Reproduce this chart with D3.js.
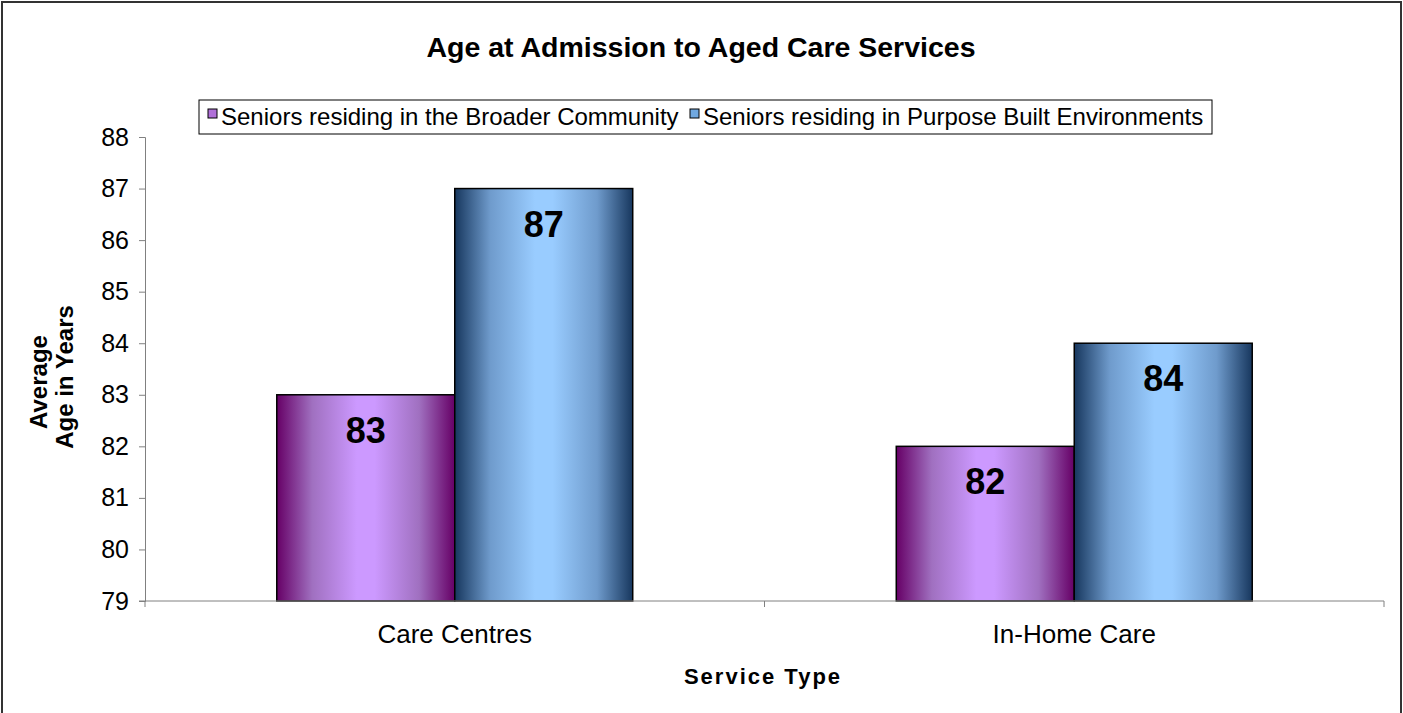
<!DOCTYPE html>
<html><head><meta charset="utf-8">
<script src="https://cdn.jsdelivr.net/npm/d3@7"></script>
<style>body{margin:0;background:#fff}svg{display:block}text{font-family:"Liberation Sans",Arial,sans-serif}</style>
</head><body><svg id="c" width="1403" height="713"></svg>
<script>
const categories = ["Care Centres", "In-Home Care"];
const seriesNames = ["Seniors residing in the Broader Community", "Seniors residing in Purpose Built Environments"];
const broaderCommunity = [83, 82];
const purposeBuilt = [87, 84];
const yTicks = [79, 80, 81, 82, 83, 84, 85, 86, 87, 88];

const svg = d3.select("#c");
const W = 1403, H = 713;
const m = {left:145, right:1384, top:137, bottom:601};

const defs = svg.append("defs");
function grad(id, dark, mid, light){
  const g = defs.append("linearGradient").attr("id", id).attr("x1","0%").attr("x2","100%").attr("y1","0%").attr("y2","0%");
  [[0,dark],[0.2,mid],[0.45,light],[0.55,light],[0.8,mid],[1,dark]].forEach(([o,c])=>g.append("stop").attr("offset",o).attr("stop-color",c));
}
grad("gP", "#660066", "#a070c0", "#cc99ff");
grad("gB", "#17375e", "#6f9bcc", "#99ccff");
const fills = ["url(#gP)", "url(#gB)"];
const legendFills = ["#b070d8", "#70a8e0"];

// outer border
svg.append("rect").attr("x",2).attr("y",2).attr("width",W-4).attr("height",H+10)
  .attr("fill","none").attr("stroke","#333").attr("stroke-width",2);

// title
svg.append("text").attr("x",701).attr("y",57).attr("text-anchor","middle")
  .attr("font-size",28.5).attr("font-weight","bold").text("Age at Admission to Aged Care Services");

const x0 = d3.scaleBand().domain(categories).range([m.left, m.right]);
const inner = x0.bandwidth();
const x1 = d3.scaleBand().domain([0,1]).range([inner*0.2127, inner*(1-0.2127)]);
const y = d3.scaleLinear().domain([79, 88]).range([m.bottom, m.top]);

// y axis
const yAxis = svg.append("g").attr("transform",`translate(${m.left},0)`)
  .call(d3.axisLeft(y).tickValues(yTicks).tickSize(6).tickPadding(10).tickFormat(d3.format("d")));
yAxis.select(".domain").attr("stroke","#808080");
yAxis.selectAll(".tick line").attr("stroke","#808080");
yAxis.selectAll(".tick text").attr("font-size",25).attr("fill","#000").attr("font-family","Liberation Sans, Arial, sans-serif");

// bars
const data = categories.map((c,i)=>({c, vals:[broaderCommunity[i], purposeBuilt[i]]}));
const groups = svg.append("g").selectAll("g").data(data).join("g")
  .attr("transform", d=>`translate(${x0(d.c)},0)`);
groups.selectAll("rect").data(d=>d.vals.map((v,k)=>({v,k}))).join("rect")
  .attr("x", d=>x1(d.k)).attr("width", x1.bandwidth())
  .attr("y", d=>y(d.v)).attr("height", d=>y(79)-y(d.v))
  .attr("fill", d=>fills[d.k]).attr("stroke","#000").attr("stroke-width",1.5);
groups.selectAll("text").data(d=>d.vals.map((v,k)=>({v,k}))).join("text")
  .attr("x", d=>x1(d.k)+x1.bandwidth()/2).attr("y", d=>y(d.v)+48)
  .attr("text-anchor","middle").attr("font-size",36).attr("font-weight","bold").text(d=>d.v);

// x axis
const xAxis = svg.append("g").attr("transform",`translate(0,${m.bottom})`);
xAxis.append("line").attr("x1",m.left-6).attr("x2",m.right).attr("y1",0).attr("y2",0).attr("stroke","#808080");
const bounds = [m.left, ...categories.slice(1).map(c=>x0(c)), m.right];
xAxis.selectAll("line.t").data(bounds).join("line").attr("class","t")
  .attr("x1",d=>d).attr("x2",d=>d).attr("y1",0).attr("y2",6).attr("stroke","#808080");
xAxis.selectAll("text").data(categories).join("text")
  .attr("x", d=>x0(d)+inner/2).attr("y", 42).attr("text-anchor","middle").attr("font-size",26).text(d=>d);

// axis titles
svg.append("text").attr("x",763).attr("y",684).attr("text-anchor","middle")
  .attr("font-size",22).attr("font-weight","bold").attr("letter-spacing",2).text("Service Type");
const yt = svg.append("text").attr("font-size",24).attr("font-weight","bold").attr("text-anchor","middle").attr("transform","rotate(-90)");
yt.append("tspan").attr("x",-382).attr("y",47).text("Average");
yt.append("tspan").attr("x",-377).attr("y",73).text("Age in Years");

// legend
const lg = svg.append("g");
lg.append("rect").attr("x",199).attr("y",100).attr("width",1013).attr("height",34)
  .attr("fill","#fff").attr("stroke","#000").attr("stroke-width",1);
const legX = [208, 690];
seriesNames.forEach((s,i)=>{
  lg.append("rect").attr("x",legX[i]).attr("y",109).attr("width",9).attr("height",9)
    .attr("fill",legendFills[i]).attr("stroke","#000").attr("stroke-width",1);
  lg.append("text").attr("x",legX[i]+13).attr("y",125).attr("font-size",24).text(s);
});
</script></body></html>
